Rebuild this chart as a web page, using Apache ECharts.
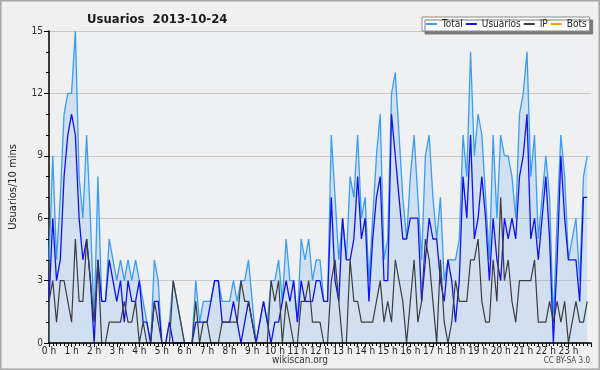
<!DOCTYPE html>
<html><head><meta charset="utf-8">
<script src="https://cdn.jsdelivr.net/npm/echarts@6/dist/echarts.min.js"></script>
<style>html,body{margin:0;padding:0;background:#f0f0f0}#c{width:600px;height:370px}</style>
</head><body><div id="c"></div>
<script>
var hourLabels = ["0 h","1 h","2 h","3 h","4 h","5 h","6 h","7 h","8 h","9 h","10 h","11 h","12 h","13 h","14 h","15 h","16 h","17 h","18 h","19 h","20 h","21 h","22 h","23 h"];
var yTicks = [0,3,6,9,12,15];
var seriesNames = ["Total","Usuarios","IP","Bots"];
var total = [4,9,4,7,11,12,12,15,8,6,10,6,1,8,2,2,5,4,3,4,3,4,3,4,3,2,1,0,4,3,0,0,1,3,2,1,0,0,0,3,1,2,2,2,3,3,2,2,2,3,2,3,3,4,2,0,1,2,1,3,3,4,2,5,3,3,1,5,4,5,3,4,4,2,2,10,7,4,6,4,8,7,10,6,7,3,6,9,11,4,5,12,13,10,7,5,8,10,7,4,9,10,7,5,7,3,4,4,4,5,10,8,14,9,11,10,7,4,10,6,10,9,9,8,6,11,12,14,8,10,5,7,9,7,1,6,10,8,4,5,6,3,8,9];
var usuarios = [2,6,3,4,8,10,11,10,6,4,5,3,0,4,2,2,4,3,2,3,1,3,2,2,3,1,1,0,2,2,0,0,1,0,0,0,0,0,0,1,1,1,1,2,3,3,1,1,1,2,1,0,1,2,1,0,1,2,1,0,1,1,2,3,2,3,1,3,2,2,2,3,3,2,2,7,3,2,6,4,4,5,8,5,6,2,5,7,8,3,3,11,9,7,5,5,6,6,6,2,4,6,5,5,3,2,4,3,1,3,8,6,10,5,6,8,6,3,6,4,3,6,5,6,5,8,9,11,5,6,4,6,8,5,0,4,9,6,4,4,4,2,7,7];
var ip = [2,3,1,3,3,2,1,5,2,2,5,3,1,4,0,0,1,1,1,1,2,1,1,2,0,1,0,0,2,1,0,0,0,3,2,1,0,0,0,2,0,1,1,0,0,0,1,1,1,1,1,3,2,2,1,0,0,0,0,3,2,3,0,2,1,0,0,2,2,3,1,1,1,0,0,3,4,2,0,0,4,2,2,1,1,1,1,2,3,1,2,1,4,3,2,0,2,4,1,2,5,4,2,0,4,1,0,1,3,2,2,2,4,4,5,2,1,1,4,2,7,3,4,2,1,3,3,3,3,4,1,1,1,2,1,2,1,2,0,1,2,1,1,2];
var bots = [0,0,0,0,0,0,0,0,0,0,0,0,0,0,0,0,0,0,0,0,0,0,0,0,0,0,0,0,0,0,0,0,0,0,0,0,0,0,0,0,0,0,0,0,0,0,0,0,0,0,0,0,0,0,0,0,0,0,0,0,0,0,0,0,0,0,0,0,0,0,0,0,0,0,0,0,0,0,0,0,0,0,0,0,0,0,0,0,0,0,0,0,0,0,0,0,0,0,0,0,0,0,0,0,0,0,0,0,0,0,0,0,0,0,0,0,0,0,0,0,0,0,0,0,0,0,0,0,0,0,0,0,0,0,0,0,0,0,0,0,0,0,0,0];

function pairs(arr){ return arr.map(function(v,i){ return [i, v]; }); }
var FONT = "'DejaVu Sans Condensed','DejaVu Sans',sans-serif";
var chart = echarts.init(document.getElementById('c'), null, {renderer:'canvas'});
chart.setOption({
  backgroundColor: '#f0f0f0',
  animation: false,
  textStyle: {fontFamily: FONT},
  title: {
    text: 'Usuarios  2013-10-24', left: 82, top: 8,
    textStyle: {fontFamily: FONT, fontSize: 13, fontWeight: 'bold', color: '#1a1a1a'}
  },
  legend: {
    data: seriesNames, left: 422, top: 17, orient: 'horizontal',
    itemWidth: 11, itemHeight: 2, itemGap: 3, icon: 'rect',
    padding: [2, 3, 2, 4],
    backgroundColor: '#ffffff', borderColor: '#8a8a8a', borderWidth: 1,
    shadowColor: '#7a7a7a', shadowBlur: 0, shadowOffsetX: 3, shadowOffsetY: 3,
    textStyle: {fontFamily: FONT, fontSize: 10, color: '#222'}
  },
  grid: {left: 46, right: 9, top: 31, bottom: 27, show: true, backgroundColor: '#eef0f2', borderWidth: 0},
  xAxis: {
    type: 'value', min: 0, max: 144, interval: 6, z: 5,
    axisLine: {show: true, lineStyle: {color: '#000', width: 1.5}},
    axisTick: {show: true, length: 4, lineStyle: {color: '#000'}},
    minorTick: {show: true, splitNumber: 6, length: 3, lineStyle: {color: '#000'}},
    splitLine: {show: false},
    axisLabel: {margin: 3, fontSize: 10, color: '#222', fontFamily: FONT,
      formatter: function(v){ return hourLabels[v/6] || ''; }}
  },
  yAxis: {
    type: 'value', min: yTicks[0], max: yTicks[yTicks.length-1], interval: 3, z: 1,
    name: 'Usuarios/10 mins', nameLocation: 'middle', nameGap: 30, nameRotate: 90,
    nameTextStyle: {fontFamily: FONT, fontSize: 11, color: '#222'},
    axisLine: {show: true, lineStyle: {color: '#000', width: 1.5}},
    axisTick: {show: true, length: 5, lineStyle: {color: '#000'}},
    minorTick: {show: true, splitNumber: 3, length: 3, lineStyle: {color: '#000'}},
    splitLine: {show: true, lineStyle: {color: '#c8c8c8', width: 1}},
    axisLabel: {margin: 6, fontSize: 10, color: '#333', fontFamily: FONT}
  },
  series: [
    {name: 'Total', type: 'line', data: pairs(total), symbol: 'none',
     lineStyle: {color: '#3a9cf5', width: 1.3}, itemStyle: {color: '#3a9cf5'},
     areaStyle: {color: 'rgba(135,188,236,0.42)'}, z: 2},
    {name: 'Usuarios', type: 'line', data: pairs(usuarios), symbol: 'none',
     lineStyle: {color: '#1010f0', width: 1.3}, itemStyle: {color: '#1010f0'}, z: 3},
    {name: 'IP', type: 'line', data: pairs(ip), symbol: 'none',
     lineStyle: {color: '#3c3c3c', width: 1.2}, itemStyle: {color: '#3c3c3c'}, z: 4},
    {name: 'Bots', type: 'line', data: pairs(bots), symbol: 'none',
     lineStyle: {color: '#ff9c00', width: 1.2}, itemStyle: {color: '#ff9c00'}, z: 1}
  ],
  graphic: [
    {type: 'rect', shape: {x: 0.5, y: 0.5, width: 599, height: 369}, style: {fill: 'none', stroke: '#a6a6a6', lineWidth: 2}, silent: true},
    {type: 'text', left: 'center', top: 355, style: {text: 'wikiscan.org', font: '10px ' + FONT, fill: '#333'}},
    {type: 'text', right: 10, top: 357, style: {text: 'CC BY-SA 3.0', font: '8px ' + FONT, fill: '#444'}}
  ]
});
</script></body></html>
